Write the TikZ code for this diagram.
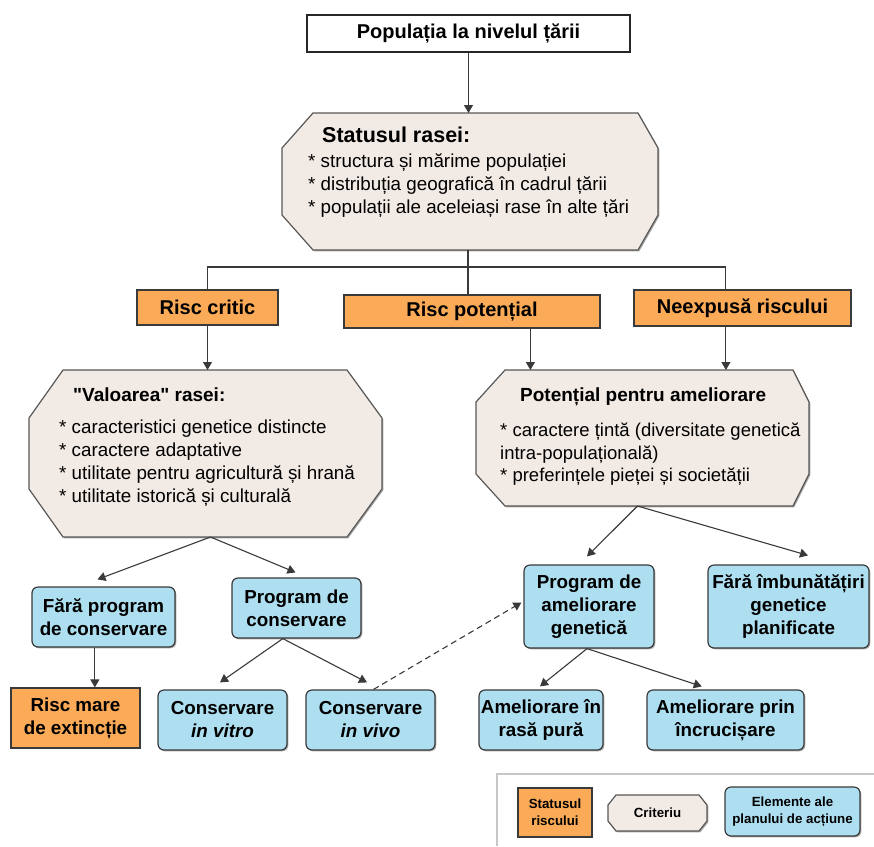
\documentclass[tikz,border=0pt]{standalone}
\usepackage{fontspec}
\setmainfont{Liberation Sans}
\newfontfamily\nolig{Liberation Sans}
\usetikzlibrary{arrows.meta,calc,shadows}
\definecolor{orng}{HTML}{FBAA57}
\definecolor{blu}{HTML}{AEDFF1}
\definecolor{bge}{HTML}{F2EAE4}
\definecolor{lne}{HTML}{3A3A3A}
\newcommand\octshape[4]{%
  \path[octo] ($(#1.north west)+(#2,0)$) -- ($(#1.north east)+(-#3,0)$)
    -- ($(#1.north east)+(0,#4)$) -- ($(#1.south east)+(0,-#4)$)
    -- ($(#1.south east)+(-#3,0)$) -- ($(#1.south west)+(#2,0)$)
    -- ($(#1.south west)+(0,-#4)$) -- ($(#1.north west)+(0,#4)$) -- cycle;}
\tikzset{
  frame/.style={draw=none, inner sep=0pt, outer sep=0pt},
  shd/.style={drop shadow={shadow xshift=1.3pt, shadow yshift=-1.3pt, fill=black, opacity=0.35}},
  octo/.style={fill=bge, draw=lne!85, line width=1.2pt, shd},
  txt/.style={inner sep=0pt, anchor=west, font=\fontsize{18.8}{23}\selectfont},
  ttl/.style={inner sep=0pt, anchor=west, font=\bfseries\fontsize{19}{23}\selectfont},
  topbox/.style={draw=black!85, fill=white, line width=1.3pt, inner sep=0pt, font=\bfseries\fontsize{20}{24}\selectfont},
  riskbox/.style={draw=lne, fill=orng, line width=1.3pt, inner sep=0pt, font=\bfseries\fontsize{20}{24}\selectfont, shd},
  bbox/.style={draw=lne, fill=blu, rounded corners=6pt, line width=1.2pt, align=center, inner sep=0pt, font=\bfseries\fontsize{18.8}{23}\selectfont, shd},
  obox/.style={draw=lne, fill=orng, line width=1.2pt, align=center, inner sep=0pt, font=\bfseries\fontsize{18.8}{23}\selectfont, shd},
  ln/.style={draw=lne, line width=1.1pt},
  arr/.style={draw=lne, line width=1.1pt, -{Triangle[length=8pt,width=9pt]}},
  legline/.style={draw=black!22, line width=1.5pt},
  legtxt/.style={font=\bfseries\fontsize{13.3}{17}\selectfont, align=center}
}
\begin{document}
\begin{tikzpicture}[x=1pt,y=-1pt]
\fill[white] (0,0) rectangle (874,846);
\useasboundingbox (0,0) rectangle (874,846);

% top
\node[topbox, minimum width=323pt, minimum height=37pt] (pop) at (468.5,33.5) {Populația la nivelul țării};

% octagon 1
\node[frame, minimum width=376pt, minimum height=137pt] (stat) at (470,181.5) {};
\octshape{stat}{31}{20}{35}
\node[ttl, font=\bfseries\fontsize{21.5}{24}\selectfont] (s0) at (322,135) {Statusul rasei:};
\node[txt] (s1) at (308,162.5) {* structura și mărime populației};
\node[txt] (s2) at (308,185.5) {* distribuția geografică în cadrul țării};
\node[txt] (s3) at (308,208.5) {* populații ale aceleiași rase în alte țări};

\draw[arr] (pop.south) -- (pop.south |- stat.north);

% risk boxes
\node[riskbox, minimum width=141pt, minimum height=35pt] (rc) at (207.5,307.5) {Risc critic};
\node[riskbox, minimum width=256pt, minimum height=33pt] (rp) at (472,311.5) {Risc potențial};
\node[riskbox, minimum width=217pt, minimum height=36pt] (ne) at (742.5,308) {Neexpusă riscului};

\coordinate (bar) at (468,267);
\coordinate (nex) at ($(ne.north west)!0.424!(ne.north east)$);
\draw[ln] (stat.south -| bar) -- (rp.north -| bar);
\draw[ln] (rc.north) -- (rc.north |- bar) -- (nex |- bar) -- (nex);

% octagon 2
\node[frame, minimum width=353pt, minimum height=167pt] (val) at (205.5,453.5) {};
\octshape{val}{34}{35}{48}
\node[ttl] (v0) at (73,395) {\nolig\bfseries "Valoarea" rasei:};
\node[txt] (v1) at (59,428.5) {* caracteristici genetice distincte};
\node[txt] (v2) at (59,451.5) {* caractere adaptative};
\node[txt] (v3) at (59,474.5) {* utilitate pentru agricultură și hrană};
\node[txt] (v4) at (59,497.5) {* utilitate istorică și culturală};

% octagon 3
\node[frame, minimum width=333pt, minimum height=136pt] (pot) at (642.5,438) {};
\octshape{pot}{29}{16}{32}
\node[ttl] (p0) at (520,396.5) {Potențial pentru ameliorare};
\node[txt, font=\fontsize{18.5}{23}\selectfont] (p1) at (500,432) {* caractere țintă (diversitate genetică};
\node[txt, font=\fontsize{18.5}{23}\selectfont] (p2) at (500,454.5) {intra-populațională)};
\node[txt, font=\fontsize{18.5}{23}\selectfont] (p3) at (500,477) {* preferințele pieței și societății};

\coordinate (rpx) at ($(rp.south west)!0.727!(rp.south east)$);
\coordinate (nes) at ($(ne.south west)!0.424!(ne.south east)$);
\draw[arr] (rc.south) -- (rc.south |- val.north);
\draw[arr] (rpx) -- (rpx |- pot.north);
\draw[arr] (nes) -- (nes |- pot.north);

% action boxes
\node[bbox, minimum width=143pt, minimum height=60pt] (fp) at (103.5,617) {Fără program\\de conservare};
\node[bbox, minimum width=129pt, minimum height=60pt] (pc) at (296.5,608) {Program de\\conservare};
\node[obox, minimum width=129pt, minimum height=60pt] (rm) at (75.5,718) {Risc mare\\de extincție};
\node[bbox, minimum width=129pt, minimum height=60pt] (iv) at (222.5,720) {Conservare\\\textit{in vitro}};
\node[bbox, minimum width=129pt, minimum height=60pt] (ivv) at (370.5,720) {Conservare\\\textit{in vivo}};
\node[bbox, minimum width=130pt, minimum height=83pt] (pag) at (589,606.5) {Program de\\ameliorare\\genetică};
\node[bbox, minimum width=161pt, minimum height=83pt] (fi) at (788.5,606.5) {Fără îmbunătățiri\\genetice\\planificate};
\node[bbox, minimum width=124pt, minimum height=60pt] (arp) at (541,720) {Ameliorare în\\rasă pură};
\node[bbox, minimum width=157pt, minimum height=60pt] (api) at (725.5,720) {Ameliorare prin\\încrucișare};

% arrows from octagon 2
\coordinate (vs) at ($(val.south)+(5,0)$);
\draw[arr] (vs) -- ($(fp.north)+(-6,-7)$);
\draw[arr] (vs) -- ($(pc.north)+(-1,-5)$);
% arrows from octagon 3
\coordinate (ps) at ($(pot.south)+(-5,0)$);
\draw[arr] (ps) -- ($(pag.north)+(-2,-8)$);
\draw[arr] (ps) -- ($(fi.north)+(19.5,-9)$);

\coordinate (fps) at ($(fp.south west)!0.44!(fp.south east)$);
\draw[arr] (fps) -- (fps |- rm.north);
\coordinate (pcs) at ($(pc.south west)!0.395!(pc.south east)$);
\draw[arr] (pcs) -- ($(iv.north)+(-2.5,-7)$);
\draw[arr] (pcs) -- ($(ivv.north)+(-3.5,-7)$);
\draw[arr, dash pattern=on 6pt off 4pt] ($(ivv.north)+(3,0)$) -- ($(pag.west)+(-2,-4)$);
\coordinate (pgs) at ($(pag.south)+(-2,0)$);
\draw[arr] (pgs) -- ($(arp.north)+(-1,-3)$);
\draw[arr] (pgs) -- ($($(api.north west)!0.35!(api.north east)$)+(0,-3)$);

% legend
\draw[legline] (497,846) -- (497,774) -- (874,774);
\node[obox, legtxt, minimum width=74pt, minimum height=49pt] (lg1) at (555,812.5) {Statusul\\riscului};
\node[frame, minimum width=99pt, minimum height=36pt] (lg2) at (657.5,813) {};
\octshape{lg2}{8}{8}{10}
\node[legtxt, inner sep=0pt] (lg2t) at (lg2) {Criteriu};
\node[bbox, legtxt, minimum width=135pt, minimum height=49pt] (lg3) at (792.5,811.5) {Elemente ale\\planului de acțiune};
\end{tikzpicture}
\end{document}
